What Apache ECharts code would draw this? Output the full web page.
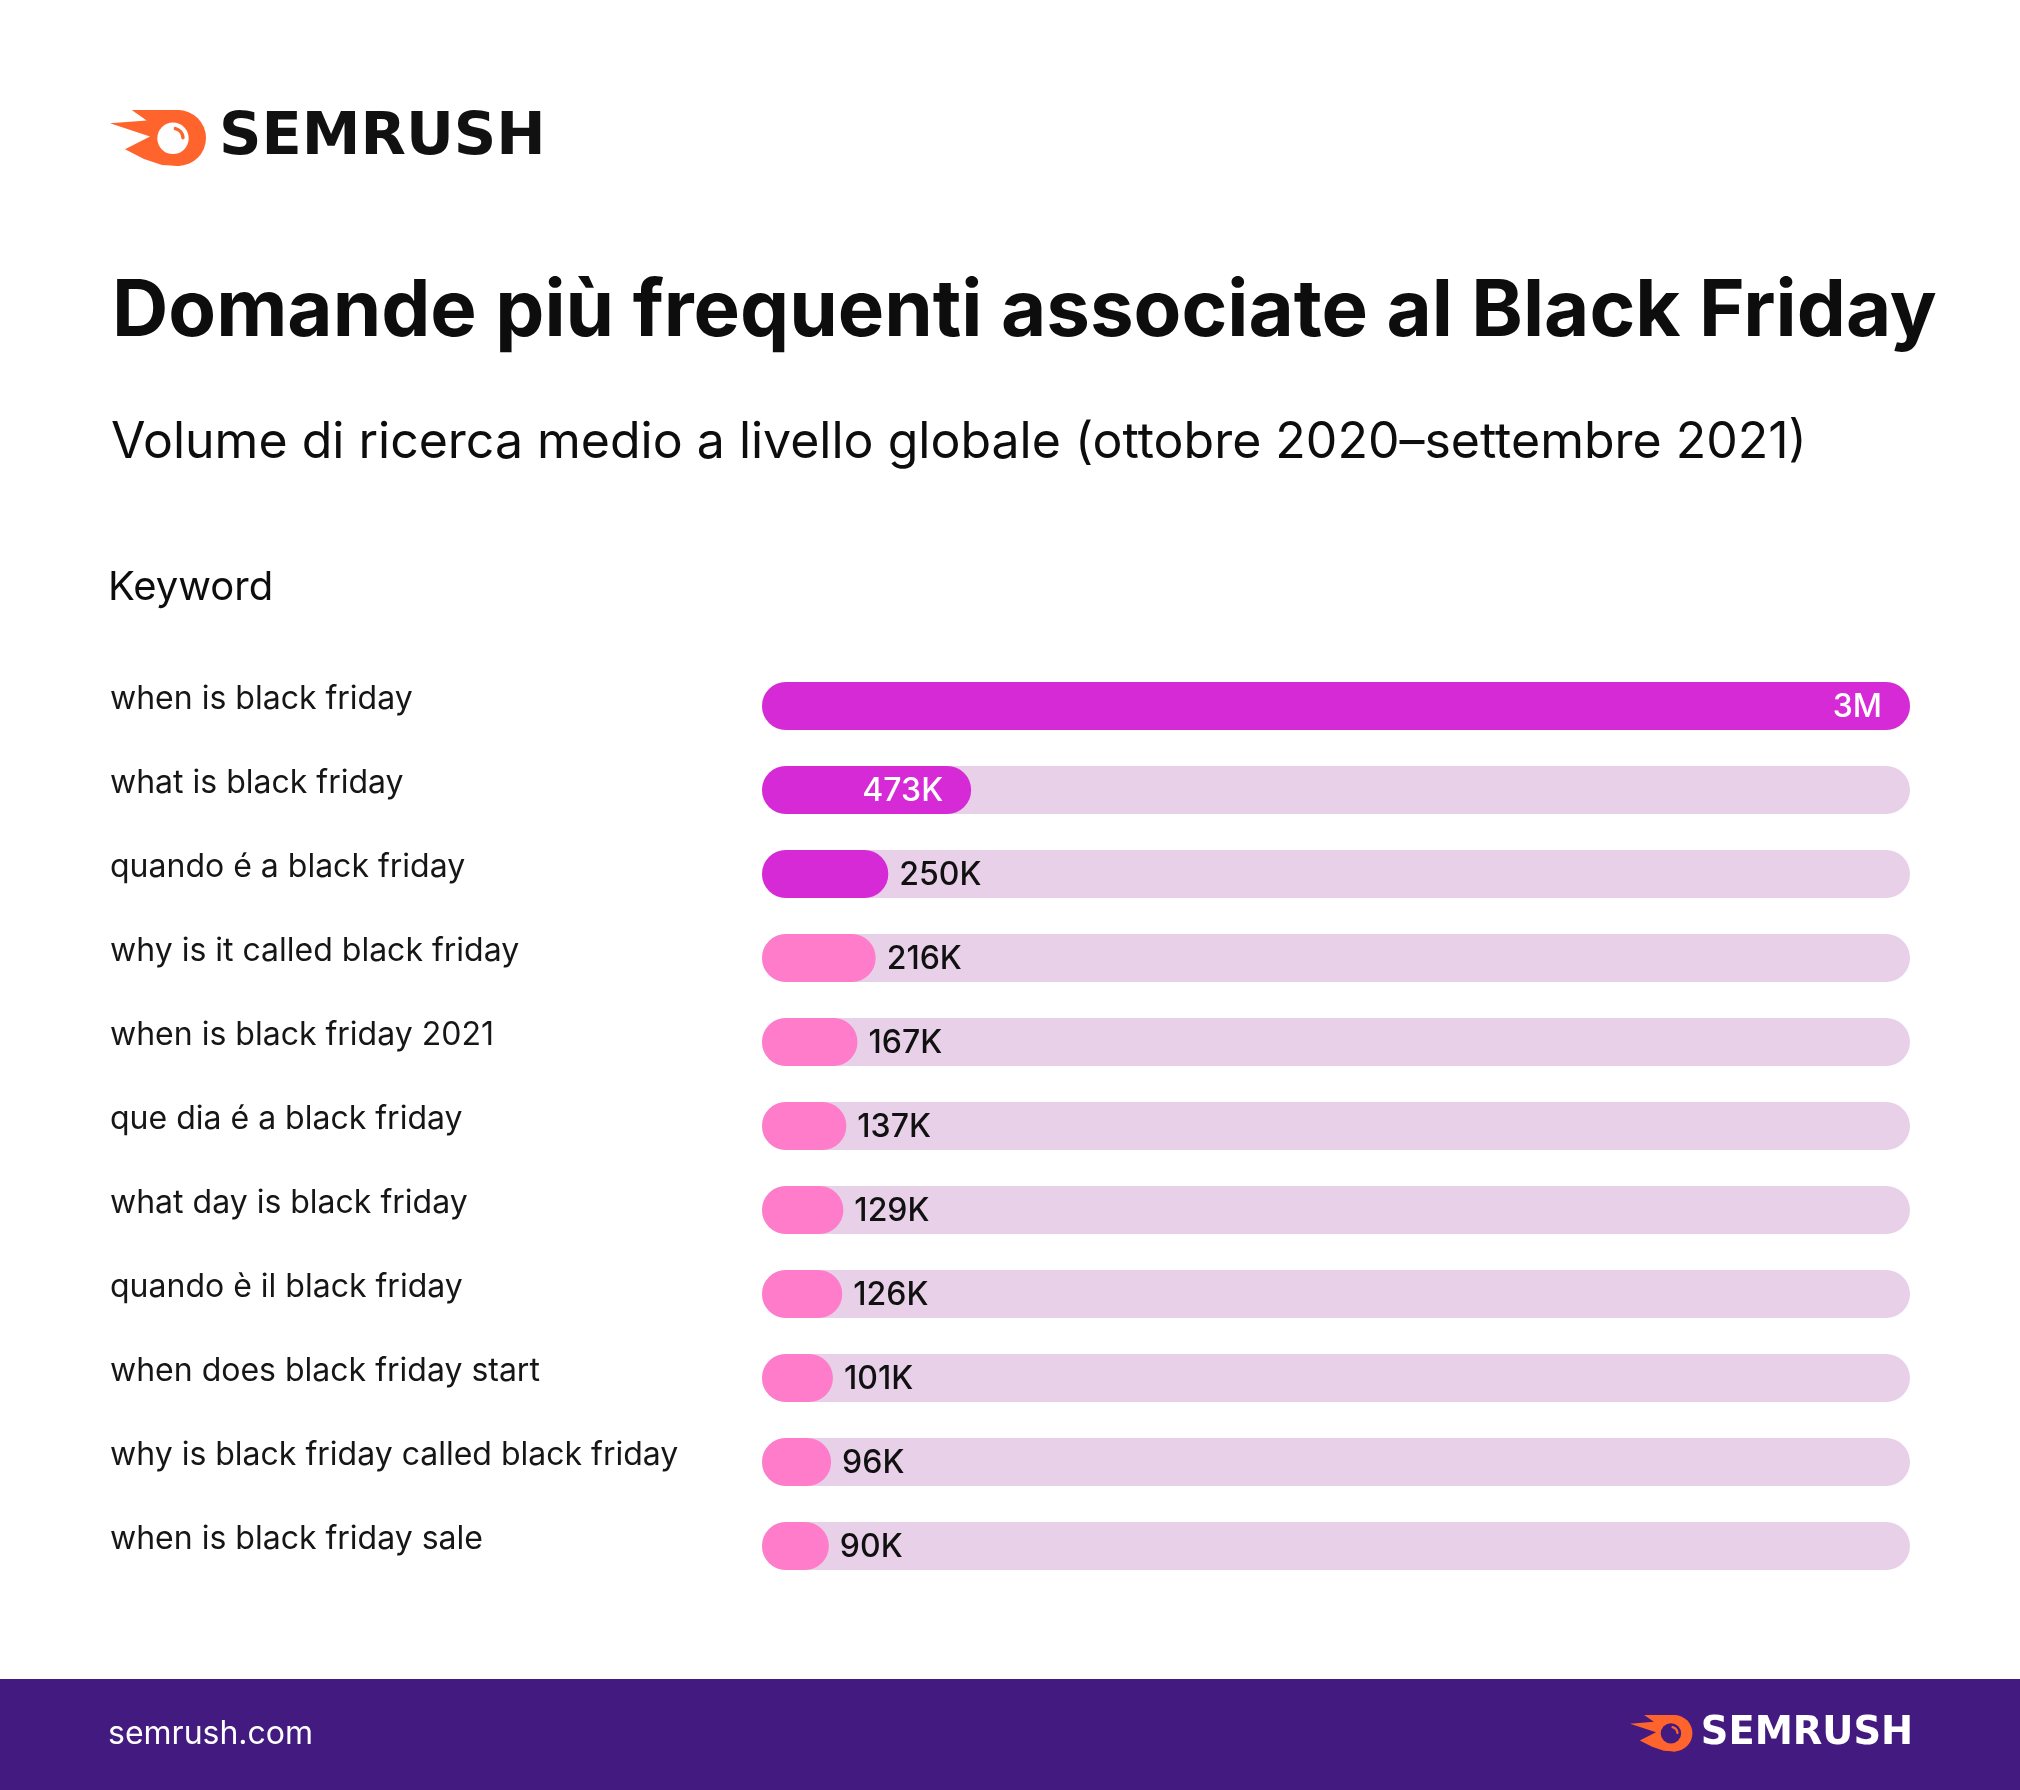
<!DOCTYPE html>
<html>
<head>
<meta charset="utf-8">
<script src="https://cdn.jsdelivr.net/npm/echarts@6/dist/echarts.min.js"></script>
<style>
html,body{margin:0;padding:0;background:#fff;}
#chart{width:2020px;height:1790px;}
</style>
</head>
<body>
<div id="chart"></div>
<script>
// ---- data ----
const categories = [
  'when is black friday',
  'what is black friday',
  'quando é a black friday',
  'why is it called black friday',
  'when is black friday 2021',
  'que dia é a black friday',
  'what day is black friday',
  'quando è il black friday',
  'when does black friday start',
  'why is black friday called black friday',
  'when is black friday sale'
];
const volumes = [3000000, 473000, 250000, 216000, 167000, 137000, 129000, 126000, 101000, 96000, 90000];
const titleText = 'Domande più frequenti associate al Black Friday';
const subtitleText = 'Volume di ricerca medio a livello globale (ottobre 2020–settembre 2021)';
const axisTitle = 'Keyword';
const footerText = 'semrush.com';
const brandText = 'SEMRUSH';

// ---- scale / style settings ----
const X_MIN = -90000;
const X_MAX = 3000000;
const HIGHLIGHT_COUNT = 3;
const INSIDE_LABEL_COUNT = 2;
const C_HI = '#d52ad6';
const C_LO = '#ff7ccb';
const C_TRACK = '#e8d0e8';
const C_FOOT = '#431a80';
const C_ORANGE = '#ff642d';
const LABEL_LEFT = 110;

function fmt(v) {
  if (v >= 1000000) return (Math.round(v / 100000) / 10) + 'M';
  return Math.round(v / 1000) + 'K';
}

function logo(ox, oy, s, innerColor, textColor) {
  return {
    type: 'group', x: ox, y: oy, scaleX: s, scaleY: s,
    children: [
      { type: 'polygon', shape: { points: [[21.7,0],[70,0],[70,56],[52,55],[34,49],[15,39.3],[40,26.5],[0,13.3],[36.7,10.5]] }, style: { fill: C_ORANGE } },
      { type: 'circle', shape: { cx: 68, cy: 28, r: 28 }, style: { fill: C_ORANGE } },
      { type: 'circle', shape: { cx: 63, cy: 28.3, r: 15.7 }, style: { fill: innerColor } },
      { type: 'arc', shape: { cx: 63, cy: 28.3, r: 10, startAngle: -Math.PI * 0.42, endAngle: -Math.PI * 0.02, clockwise: true }, style: { stroke: C_ORANGE, lineWidth: 3.5, fill: null, lineCap: 'round' } },
      { type: 'text', style: { text: brandText, x: 109, y: 29, fill: textColor, font: 'bold 59px "DejaVu Sans"', textAlign: 'left', textVerticalAlign: 'middle', align: 'left', verticalAlign: 'middle' } }
    ]
  };
}

const chart = echarts.init(document.getElementById('chart'), null, { renderer: 'canvas' });

const option = {
  backgroundColor: '#ffffff',
  animation: false,
  grid: { left: 762, right: 110, top: 664, bottom: 202, containLabel: false },
  xAxis: { type: 'value', min: X_MIN, max: X_MAX, show: false },
  yAxis: {
    type: 'category', data: categories, inverse: true,
    axisLine: { show: false }, axisTick: { show: false }, splitLine: { show: false },
    axisLabel: { show: false }
  },
  series: [{
    type: 'custom',
    encode: { x: 0, y: 1 },
    data: volumes.map((v, i) => [v, categories[i]]),
    renderItem: function (params, api) {
      const idx = params.dataIndex;
      const v = api.value(0);
      const cat = api.value(1);
      const start = api.coord([X_MIN, cat]);
      const end = api.coord([v, cat]);
      const trackEnd = api.coord([X_MAX, cat]);
      const h = 48;
      const y = start[1] - h / 2;
      const inside = idx < INSIDE_LABEL_COUNT;
      return {
        type: 'group',
        children: [
          { type: 'text', style: {
              text: categories[idx], x: LABEL_LEFT, y: start[1] - 7,
              fill: '#161616', font: '400 32px Inter',
              textAlign: 'left', align: 'left', textVerticalAlign: 'middle', verticalAlign: 'middle'
          } },
          { type: 'rect', shape: { x: start[0], y: y, width: trackEnd[0] - start[0], height: h, r: h / 2 }, style: { fill: C_TRACK } },
          { type: 'rect', shape: { x: start[0], y: y, width: end[0] - start[0], height: h, r: h / 2 }, style: { fill: idx < HIGHLIGHT_COUNT ? C_HI : C_LO } },
          { type: 'text', style: {
              text: fmt(v),
              x: inside ? end[0] - 28 : end[0] + 11,
              y: start[1] + 1,
              fill: inside ? '#ffffff' : '#111111',
              font: '500 32px Inter',
              textAlign: inside ? 'right' : 'left', align: inside ? 'right' : 'left',
              textVerticalAlign: 'middle', verticalAlign: 'middle'
          } }
        ]
      };
    }
  }],
  graphic: [
    logo(110, 110, 1, '#ffffff', '#111111'),
    { type: 'text', style: { text: titleText, x: 112, y: 313, fill: '#0d0d0d', font: '700 78px Inter', textAlign: 'left', textVerticalAlign: 'middle', align: 'left', verticalAlign: 'middle' } },
    { type: 'text', style: { text: subtitleText, x: 111, y: 443, fill: '#0d0d0d', font: '400 50px Inter', textAlign: 'left', textVerticalAlign: 'middle', align: 'left', verticalAlign: 'middle' } },
    { type: 'text', style: { text: axisTitle, x: 108, y: 588, fill: '#0d0d0d', font: '400 40px Inter', textAlign: 'left', textVerticalAlign: 'middle', align: 'left', verticalAlign: 'middle' } },
    { type: 'rect', shape: { x: 0, y: 1679, width: 2020, height: 111 }, style: { fill: C_FOOT } },
    { type: 'text', style: { text: footerText, x: 108, y: 1734, fill: '#ffffff', font: '400 32px Inter', textAlign: 'left', textVerticalAlign: 'middle', align: 'left', verticalAlign: 'middle' } },
    logo(1630, 1715, 0.65, C_FOOT, '#ffffff')
  ]
};
chart.setOption(option);
</script>
</body>
</html>
